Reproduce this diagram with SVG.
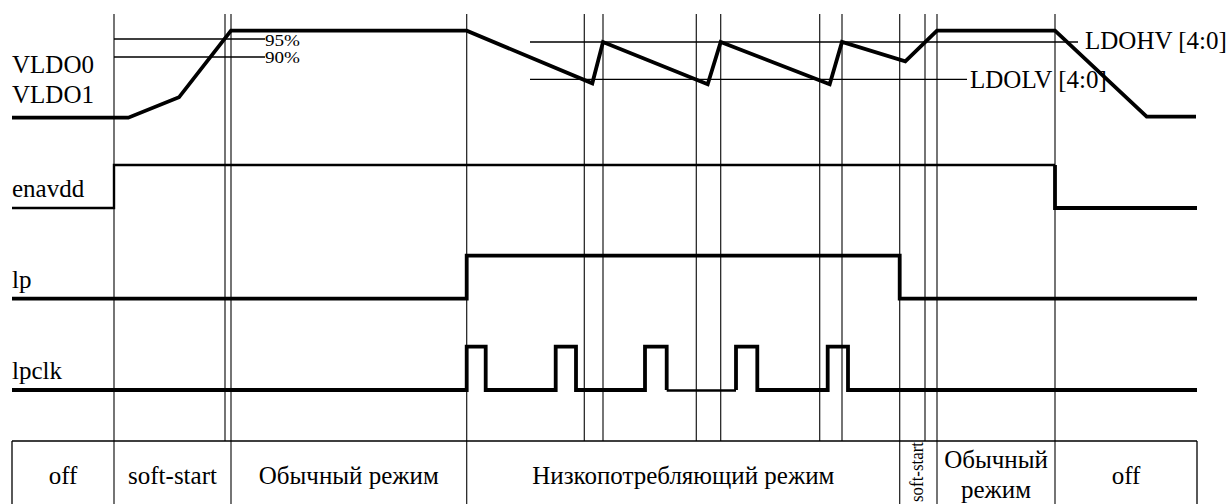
<svg xmlns="http://www.w3.org/2000/svg" width="1230" height="504" viewBox="0 0 1230 504">
<style>
text{font-family:"Liberation Serif","Times New Roman","DejaVu Serif",serif;fill:#000}
.lbl{font-size:25px}
.pct{font-size:16px}
.tbl{font-size:25px}
.grid{stroke:#1a1a1a;stroke-width:1.2;fill:none}
.thin{stroke:#000;stroke-width:1.3;fill:none}
.sig{stroke:#000;stroke-width:3.8;fill:none;stroke-linejoin:miter}
.mid{stroke:#000;stroke-width:2.4;fill:none}
</style>
<rect width="1230" height="504" fill="#fff"/>
<g id="grid">
<path class="grid" d="M114,14V504M225,14V441M231,14V504M466.7,14V504M584.3,14V441M603,14V441M696.3,14V441M720.7,14V441M819.7,14V441M842,14V441M899.7,14V504M925,14V441M937,14V504M1055,14V504"/>
</g>
<g id="levels">
<path class="thin" d="M114,39H265M114,57H265M530,42H1078M530,79.3H967"/>
<text class="pct" x="265" y="46" textLength="35" lengthAdjust="spacingAndGlyphs">95%</text>
<text class="pct" x="265" y="63" textLength="35" lengthAdjust="spacingAndGlyphs">90%</text>
<text class="lbl" x="1085" y="48.5">LDOHV [4:0]</text>
<text class="lbl" x="970" y="88.3">LDOLV [4:0]</text>
</g>
<g id="labels">
<text class="lbl" x="12" y="73.3">VLDO0</text>
<text class="lbl" x="12" y="103.3">VLDO1</text>
<text class="lbl" x="12" y="196.7">enavdd</text>
<text class="lbl" x="12" y="288">lp</text>
<text class="lbl" x="12" y="379">lpclk</text>
</g>
<g id="signals">
<path id="vldo" class="sig" d="M12,117.7H128.3L179,97.3L231,30.7H466.7L592.3,83.3L603,42L707.7,84.3L720.7,42L829.7,84.3L842,42L905.3,61.3L937,30.7H1055L1146.7,116.7H1196"/>
<path id="enavdd-a" class="mid" d="M12,208H114V165H1055"/>
<path id="enavdd-b" class="sig" d="M1055,165V208H1197"/>
<path id="lp" class="sig" d="M12,298.7H466.7V255.7H899.7V298.7H1197"/>
<path id="lpclk-a" class="sig" d="M12,390H466.7V346.7H485.7V390H555.7V346.7H576V390H645V346.7H666.7V390"/>
<path id="lpclk-t" class="mid" d="M666.7,390.5H736"/>
<path id="lpclk-b" class="sig" d="M736,390V346.7H757.3V390H827.7V346.7H848V390H1197"/>
</g>
<g id="table">
<path class="thin" d="M12,441H1197M12,441V504M1197,441V504"/>
<text class="tbl" x="63" y="484" text-anchor="middle">off</text>
<text class="tbl" x="172.5" y="484" text-anchor="middle">soft-start</text>
<text class="tbl" x="348.8" y="484" text-anchor="middle">Обычный режим</text>
<text class="tbl" x="683.3" y="484" text-anchor="middle">Низкопотребляющий режим</text>
<text font-size="19" x="0" y="0" text-anchor="middle" transform="translate(923,472) rotate(-90)" textLength="60" lengthAdjust="spacingAndGlyphs">soft-start</text>
<text class="tbl" x="996" y="467.5" text-anchor="middle">Обычный</text>
<text class="tbl" x="996" y="497.5" text-anchor="middle">режим</text>
<text class="tbl" x="1126" y="484" text-anchor="middle">off</text>
</g>
</svg>
